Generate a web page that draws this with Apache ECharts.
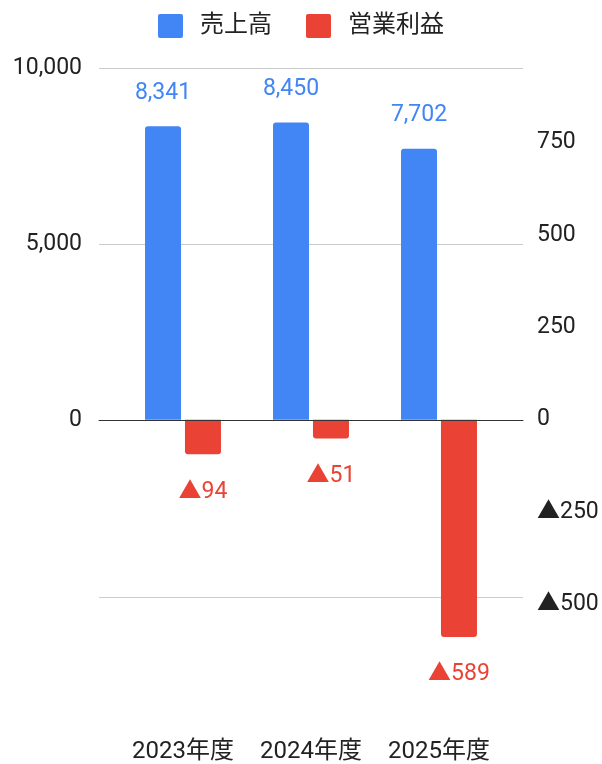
<!DOCTYPE html>
<html>
<head>
<meta charset="utf-8">
<script src="https://cdn.jsdelivr.net/npm/echarts@6/dist/echarts.min.js"></script>
<style>
html,body{margin:0;padding:0;background:#fff;}
#chart{width:602px;height:764px;}
</style>
</head>
<body>
<div id="chart"></div>
<script>
// ---- data ----
const categories = ['2023年度', '2024年度', '2025年度'];
const salesName = '売上高';
const profitName = '営業利益';
const sales = [8341, 8450, 7702];
const profit = [-94, -51, -589];
const leftTicks = [0, 5000, 10000];
const rightTicks = [-500, -250, 0, 250, 500, 750];

// ---- helpers ----
const FONT = 'Roboto, "Noto Sans CJK JP", sans-serif';
const BLUE = '#4285F4';
const RED = '#EA4335';
const fmtNum = v => Number(v).toLocaleString('en-US');
const fmtTri = v => (v < 0 ? '▲' + fmtNum(Math.abs(v)) : fmtNum(v));
const ICON = 'path://M2,0H23A2,2,0,0,1,25,2V22A2,2,0,0,1,23,24H2A2,2,0,0,1,0,22V2A2,2,0,0,1,2,0Z';

// scale: left 10.5 units per right unit
const ratio = 10.5;
const leftMin = -8400, leftMax = 10000;

const chart = echarts.init(document.getElementById('chart'), null, {renderer: 'canvas'});
chart.setOption({
  animation: false,
  backgroundColor: '#fff',
  textStyle: {fontFamily: FONT},
  legend: {
    top: 9,
    left: 'center',
    icon: ICON,
    itemWidth: 25,
    itemHeight: 24,
    itemGap: 34,
    textStyle: {fontSize: 24, color: '#222', fontFamily: FONT, padding: [0, 0, 0, 12]},
    data: [salesName, profitName]
  },
  grid: [
    {left: 99, right: 79, top: 68, height: 529},
    {left: 119, right: 99, top: 68, height: 648.8}
  ],
  xAxis: [
    {
      type: 'category', gridIndex: 1, data: categories,
      axisLine: {show: false}, axisTick: {show: false},
      axisLabel: {interval: 0, margin: 25, fontSize: 24, color: '#222', fontFamily: FONT}
    },
    {
      type: 'value', gridIndex: 0, min: 0, max: 1, z: 10,
      axisLine: {show: true, onZero: true, lineStyle: {color: '#333', width: 1}},
      axisTick: {show: false}, axisLabel: {show: false}, splitLine: {show: false}
    }
  ],
  yAxis: [
    {type: 'value', gridIndex: 1, min: leftMin, max: leftMax, show: false},
    {
      type: 'value', gridIndex: 1, position: 'right',
      min: leftMin / ratio, max: leftMax / ratio, interval: 50,
      axisLine: {show: false}, axisTick: {show: false}, splitLine: {show: false},
      axisLabel: {
        margin: 34, fontSize: 23, color: '#222', fontFamily: FONT, padding: [4, 0, 0, 0],
        formatter: v => (rightTicks.indexOf(Math.round(v)) >= 0 && Math.abs(v - Math.round(v)) < 1e-6 ? fmtTri(v) : '')
      }
    },
    {
      type: 'value', gridIndex: 0, position: 'left',
      min: -5000, max: 10000, interval: 5000,
      axisLine: {show: false}, axisTick: {show: false},
      splitLine: {show: true, lineStyle: {color: '#cccccc', width: 1}},
      axisLabel: {
        margin: 17, fontSize: 23, color: '#222', fontFamily: FONT, padding: [3, 0, 0, 0],
        formatter: v => (leftTicks.indexOf(v) >= 0 ? fmtNum(v) : '')
      }
    }
  ],
  series: [
    {
      name: salesName, type: 'bar', xAxisIndex: 0, yAxisIndex: 0,
      data: sales, barWidth: 36, barGap: '11%',
      itemStyle: {color: BLUE, borderRadius: [3, 3, 0, 0]},
      label: {
        show: true, position: 'top', distance: 22,
        fontSize: 23, color: BLUE, fontFamily: FONT,
        formatter: p => fmtNum(p.value)
      }
    },
    {
      name: profitName, type: 'bar', xAxisIndex: 0, yAxisIndex: 1,
      data: profit, barWidth: 36, barGap: '11%',
      itemStyle: {color: RED, borderRadius: [0, 0, 3, 3]},
      label: {
        show: true, position: 'bottom', distance: 26,
        fontSize: 23, color: RED, fontFamily: FONT,
        formatter: p => fmtTri(p.value)
      }
    }
  ]
});
</script>
</body>
</html>
